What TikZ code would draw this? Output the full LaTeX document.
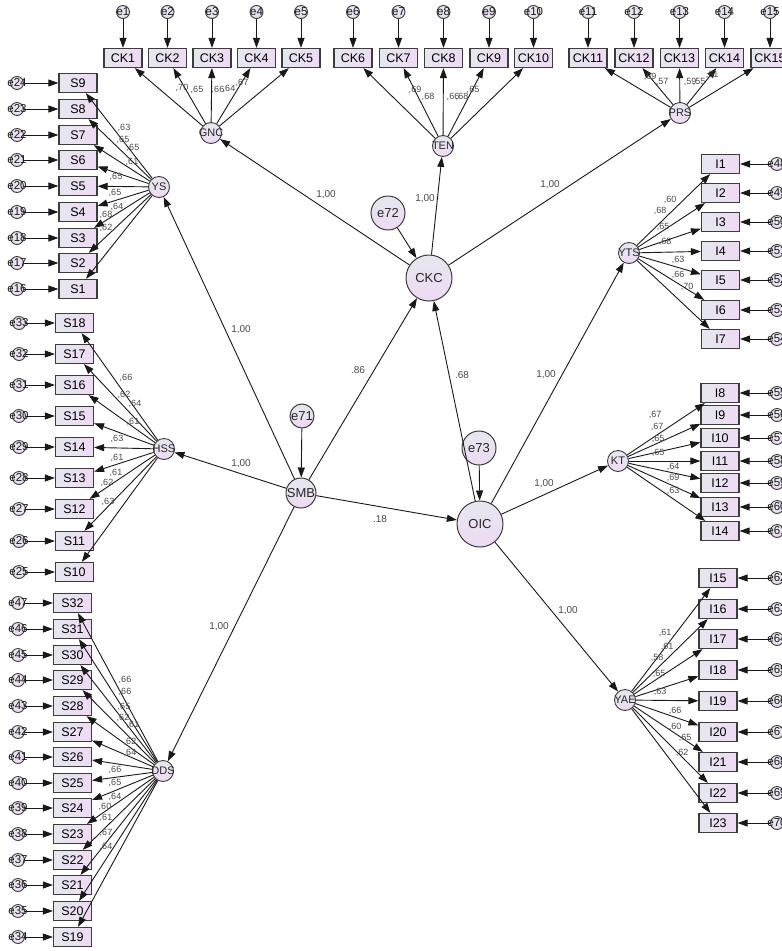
\documentclass[tikz,border=0pt]{standalone}
\usepackage{fontspec}
\setmainfont{Liberation Sans}
\usetikzlibrary{arrows.meta}
\definecolor{fillA}{HTML}{E6E7EF}
\definecolor{fillB}{HTML}{EEDAF4}
\definecolor{edgec}{HTML}{3C3C3C}
\definecolor{coefc}{HTML}{4A4A4A}
\tikzset{
  ind/.style={rectangle, draw=edgec, line width=1.2pt, left color=fillA, right color=fillB,
    minimum width=38pt, minimum height=19pt, inner sep=0pt, font=\fontsize{12.5}{13}\selectfont},
  latsm/.style={circle, draw=edgec, line width=0.9pt, top color=fillA, bottom color=fillB,
    minimum size=21pt, inner sep=0pt},
  latbig/.style={circle, draw=edgec, line width=1pt, top color=fillA, bottom color=fillB,
    minimum size=46pt, inner sep=0pt},
  latmid/.style={latbig, minimum size=30pt},
  disbig/.style={latbig, minimum size=34pt},
  dismid/.style={latbig, minimum size=24pt},
  err/.style={circle, draw=edgec, line width=0.9pt, top color=fillA, bottom color=fillB,
    minimum size=13pt, inner sep=0pt},
  smtxt/.style={font=\fontsize{11}{11}\selectfont, inner sep=0pt, text=black!85},
  bigtxt/.style={font=\fontsize{13}{13}\selectfont, inner sep=0pt, text=black!85},
  etxt/.style={font=\fontsize{11.5}{11.5}\selectfont, inner sep=0pt, text=black!90},
  arr/.style={-{Triangle[length=10pt,width=7pt]}, line width=0.9pt, draw=black!90},
  ld/.style={font=\fontsize{9}{9}\selectfont, text=coefc, inner sep=0pt},
  pc/.style={font=\fontsize{10}{10}\selectfont, text=coefc, inner sep=0pt},
}
\begin{document}
\begin{tikzpicture}[x=1pt,y=-1pt]
\path[use as bounding box, fill=white] (0,0) rectangle (782,951);

% ---------- structural part ----------
\node[latbig, label={[bigtxt]center:CKC}] (CKC) at (429,278) {};
\node[latbig, label={[bigtxt]center:OIC}] (OIC) at (480,524) {};
\node[latmid, label={[bigtxt]center:SMB}] (SMB) at (301,493) {};
\node[disbig, label={[bigtxt]center:e72}] (d72) at (388,213) {};
\node[disbig, label={[bigtxt]center:e73}] (d73) at (479,448) {};
\node[dismid, label={[bigtxt]center:e71}] (d71) at (302,416) {};

% first-order latents
\node[latsm, label={[smtxt]center:GNC}] (GNC) at (211,133) {};
\node[latsm, label={[smtxt]center:TEN}] (TEN) at (443,146) {};
\node[latsm, label={[smtxt]center:PRS}] (PRS) at (680,113) {};
\node[latsm, label={[smtxt]center:YS}]  (YS)  at (159,187) {};
\node[latsm, label={[smtxt]center:HSS}] (HSS) at (164,449) {};
\node[latsm, label={[smtxt]center:DDS}] (DDS) at (163,771) {};
\node[latsm, label={[smtxt]center:YTS}] (YTS) at (629,253) {};
\node[latsm, label={[smtxt]center:KT}]  (KT)  at (618,461) {};
\node[latsm, label={[smtxt]center:YAE}] (YAE) at (625,700) {};

% structural arrows
\draw[arr] (d71) -- (SMB);
\draw[arr] (d72) -- (CKC);
\draw[arr] (d73) -- (OIC);
\draw[arr] (SMB) -- (YS);
\draw[arr] (SMB) -- (HSS);
\draw[arr] (SMB) -- (DDS);
\draw[arr] (SMB) -- (CKC);
\draw[arr] (SMB) -- (OIC);
\draw[arr] (OIC) -- (CKC);
\draw[arr] (CKC) -- (GNC);
\draw[arr] (CKC) -- (TEN);
\draw[arr] (CKC) -- (PRS);
\draw[arr] (OIC) -- (YTS);
\draw[arr] (OIC) -- (KT);
\draw[arr] (OIC) -- (YAE);

\node[pc] at (326,195) {1,00};
\node[pc] at (425,199) {1,00};
\node[pc] at (550,185) {1,00};
\node[pc] at (241,330) {1,00};
\node[pc] at (241,464) {1,00};
\node[pc] at (219,627) {1,00};
\node[pc] at (358,370) {.86};
\node[pc] at (462,375) {.68};
\node[pc] at (380,519) {.18};
\node[pc] at (546,375) {1,00};
\node[pc] at (544,484) {1,00};
\node[pc] at (568,611) {1,00};

% ---------- top indicators ----------
\foreach \n/\x in {1/123,2/167.5,3/212,4/256.5,5/301,6/353,7/398.5,8/443.5,9/489,10/533.5,11/588,12/634,13/679.5,14/724.5,15/770}{
  \node[ind] (CK\n) at (\x,58) {CK\n};
  \node[err, label={[etxt]center:e\n}] (er\n) at (\x,12) {};
}
\foreach \n in {1,...,15}{ \draw[arr] (er\n) -- (CK\n); }
\foreach \n in {1,...,5}{ \draw[arr] (GNC) -- (CK\n); }
\foreach \n in {6,...,10}{ \draw[arr] (TEN) -- (CK\n); }
\foreach \n in {11,...,15}{ \draw[arr] (PRS) -- (CK\n); }

% ---------- left indicators ----------
\foreach \n/\y/\e in {9/83/24,8/109/23,7/135/22,6/160/21,5/186/20,4/212/19,3/238/18,2/263/17,1/289/16}{
  \node[ind] (S\n) at (78,\y) {S\n};
  \node[err, label={[etxt]center:e\e}] (er\e) at (17,\y) {};
}
\foreach \n/\y/\e in {18/323/33,17/354/32,16/385/31,15/416/30,14/447/29,13/478/28,12/509/27,11/541/26,10/572/25}{
  \node[ind] (S\n) at (74.5,\y) {S\n};
  \node[err, label={[etxt]center:e\e}] (er\e) at (19,\y) {};
}
\foreach \n/\y/\e in {32/603/47,31/629/46,30/655/45,29/680/44,28/706/43,27/732/42,26/757/41,25/783/40,24/808/39,23/834/38,22/860/37,21/885/36,20/911/35,19/937/34}{
  \node[ind] (S\n) at (72.5,\y) {S\n};
  \node[err, label={[etxt]center:e\e}] (er\e) at (18,\y) {};
}
\foreach \n/\e in {9/24,8/23,7/22,6/21,5/20,4/19,3/18,2/17,1/16}{
  \draw[arr] (er\e) -- (S\n); \draw[arr] (YS) -- (S\n);
}
\foreach \n/\e in {18/33,17/32,16/31,15/30,14/29,13/28,12/27,11/26,10/25}{
  \draw[arr] (er\e) -- (S\n); \draw[arr] (HSS) -- (S\n);
}
\foreach \n/\e in {32/47,31/46,30/45,29/44,28/43,27/42,26/41,25/40,24/39,23/38,22/37,21/36,20/35,19/34}{
  \draw[arr] (er\e) -- (S\n); \draw[arr] (DDS) -- (S\n);
}

% ---------- right indicators ----------
\foreach \n/\y/\e in {1/164/48,2/193/49,3/222/50,4/251/51,5/280/52,6/310/53,7/339/54}{
  \node[ind] (I\n) at (720.5,\y) {I\n};
  \node[err, label={[etxt]center:e\e}] (er\e) at (777,\y) {};
}
\foreach \n/\y/\e in {8/393/55,9/415/56,10/438/57,11/461/58,12/483/59,13/507/60,14/531/61}{
  \node[ind] (I\n) at (720,\y) {I\n};
  \node[err, label={[etxt]center:e\e}] (er\e) at (777,\y) {};
}
\foreach \n/\y/\e in {15/578/62,16/609/63,17/639/64,18/670/65,19/701/66,20/732/67,21/762/68,22/793/69,23/823/70}{
  \node[ind] (I\n) at (718,\y) {I\n};
  \node[err, label={[etxt]center:e\e}] (er\e) at (777,\y) {};
}
\foreach \n/\e in {1/48,2/49,3/50,4/51,5/52,6/53,7/54}{
  \draw[arr] (er\e) -- (I\n); \draw[arr] (YTS) -- (I\n);
}
\foreach \n/\e in {8/55,9/56,10/57,11/58,12/59,13/60,14/61}{
  \draw[arr] (er\e) -- (I\n); \draw[arr] (KT) -- (I\n);
}
\foreach \n/\e in {15/62,16/63,17/64,18/65,19/66,20/67,21/68,22/69,23/70}{
  \draw[arr] (er\e) -- (I\n); \draw[arr] (YAE) -- (I\n);
}

% ---------- loadings ----------
\foreach \x/\y/\t in {182/88/70,197/90/65,218/90/66,229/89/64,242/83/67,
  415/90/69,428/97/68,453/97/66,462/97/68,473/90/65,
  650/77/69,662/82/57,690/82/59,699/82/55,712/75/61,
  124/128/63,123/140/65,133/148/65,132/162/61,116/177/65,115/193/65,117/207/64,106/215/68,106/228/62,
  126/378/66,124/395/62,135/404/64,133/422/61,117/439/63,117/458/61,116/473/61,107/483/62,108/502/63,
  125/680/66,125/692/66,124/707/65,123/718/62,133/725/61,130/742/62,130/753/64,115/770/66,115/783/65,
  115/797/64,105/807/60,106/818/61,106/833/67,106/847/64,
  670/200/60,660/211/68,663/227/65,665/242/68,678/260/63,678/275/66,687/287/70,
  655/415/67,657/427/67,658/439/65,658/453/65,673/467/64,673/478/69,673/491/63,
  665/633/61,667/647/61,657/658/58,659/674/65,660/692/63,675/711/66,675/727/60,685/738/65,682/753/62}{
  \node[ld] at (\x,\y) {,\t};
}
\end{tikzpicture}
\end{document}
